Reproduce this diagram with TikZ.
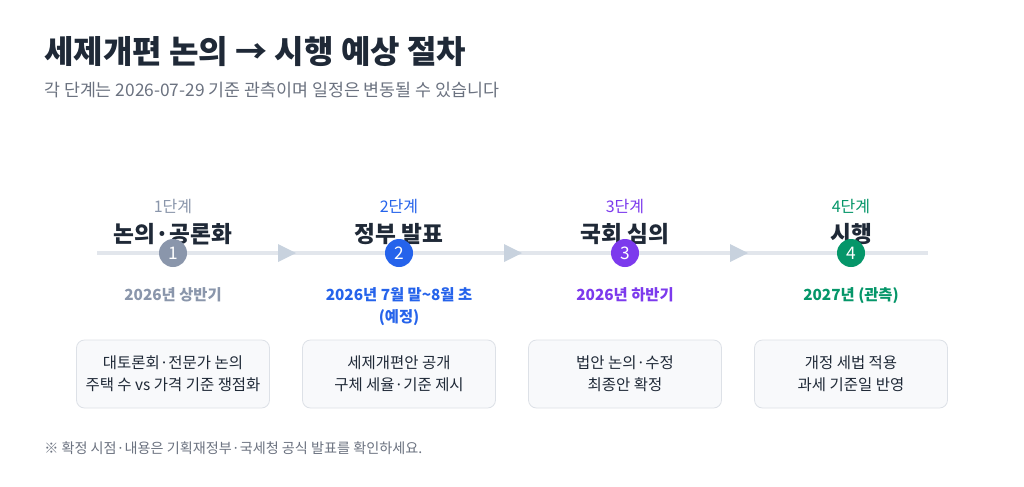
\documentclass[tikz,border=0pt]{standalone}
\usepackage{fontspec}
\setmainfont{Noto Sans CJK KR}
\usetikzlibrary{positioning}
\definecolor{inkdark}{HTML}{1F2937}
\definecolor{inkgray}{HTML}{6B7280}
\definecolor{stepgray}{HTML}{8A96AB}
\definecolor{stepblue}{HTML}{2563EB}
\definecolor{steppurple}{HTML}{7C3AED}
\definecolor{stepgreen}{HTML}{059669}
\definecolor{railgray}{HTML}{E2E6EC}
\definecolor{arrowgray}{HTML}{C8D2DE}
\definecolor{boxfill}{HTML}{F8F9FB}
\definecolor{boxline}{HTML}{DDE1E7}
\tikzset{
  steplabel/.style={font=\fontsize{12}{14}\selectfont},
  stepname/.style={font=\fontsize{17}{20}\selectfont\bfseries, text=inkdark},
  stepdot/.style={circle, minimum size=21pt, inner sep=0pt, text=white, font=\fontsize{13}{13}\selectfont},
  stepdate/.style={font=\fontsize{11.5}{16.5}\selectfont\bfseries, align=center},
  stepbox/.style={draw=boxline, fill=boxfill, rounded corners=6pt, minimum width=144.75pt, minimum height=51pt, align=center, font=\fontsize{11.6}{16.5}\selectfont, text=inkdark, line width=0.6pt},
  railtip/.style={fill=arrowgray}
}
\begin{document}
\begin{tikzpicture}[x=0.75pt, y=-0.75pt]
  \useasboundingbox[fill=white] (0,0) rectangle (1024,486);
  \node[anchor=west, inner sep=0pt, font=\fontsize{24}{26}\selectfont\bfseries, text=inkdark] (title) at (44,52) {세제개편 논의 → 시행 예상 절차};
  \node[anchor=west, inner sep=0pt, font=\fontsize{13}{15}\selectfont, text=inkgray] (sub) at (44,90) {각 단계는 2026-07-29 기준 관측이며 일정은 변동될 수 있습니다};
  % rail
  \coordinate (railL) at (97,253);
  \coordinate (railR) at (928,253);
  \draw[railgray, line width=3pt] (railL) -- (railR);
  \foreach \tx in {287,513,739}
    \fill[railtip] (\tx-9,244) -- (\tx+9,253) -- (\tx-9,262) -- cycle;
  % stages
  \foreach \i/\x/\col/\name/\date/\boxtext in {
      1/173/stepgray/{논의·공론화}/{2026년 상반기}/{대토론회·전문가 논의\\주택 수 vs 가격 기준 쟁점화},
      2/399/stepblue/{정부 발표}/{2026년 7월 말\textasciitilde 8월 초\\(예정)}/{세제개편안 공개\\구체 세율·기준 제시},
      3/625/steppurple/{국회 심의}/{2026년 하반기}/{법안 논의·수정\\최종안 확정},
      4/851/stepgreen/{시행}/{2027년 (관측)}/{개정 세법 적용\\과세 기준일 반영}} {
    \node[steplabel, text=\col] (lab\i) at (\x,207) {{\i}단계};
    \node[stepname] (name\i) at (\x,234) {\name};
    \node[stepdot, fill=\col] (dot\i) at (\x,253) {\i};
    \node[stepdate, text=\col, anchor=north] (date\i) at (\x,283) {\date};
    \node[stepbox] (box\i) at (\x,374) {\boxtext};
  }
  \node[anchor=west, inner sep=0pt, font=\fontsize{10.6}{12}\selectfont, text=inkgray] (note) at (44,448) {※ 확정 시점·내용은 기획재정부·국세청 공식 발표를 확인하세요.};
\end{tikzpicture}
\end{document}
